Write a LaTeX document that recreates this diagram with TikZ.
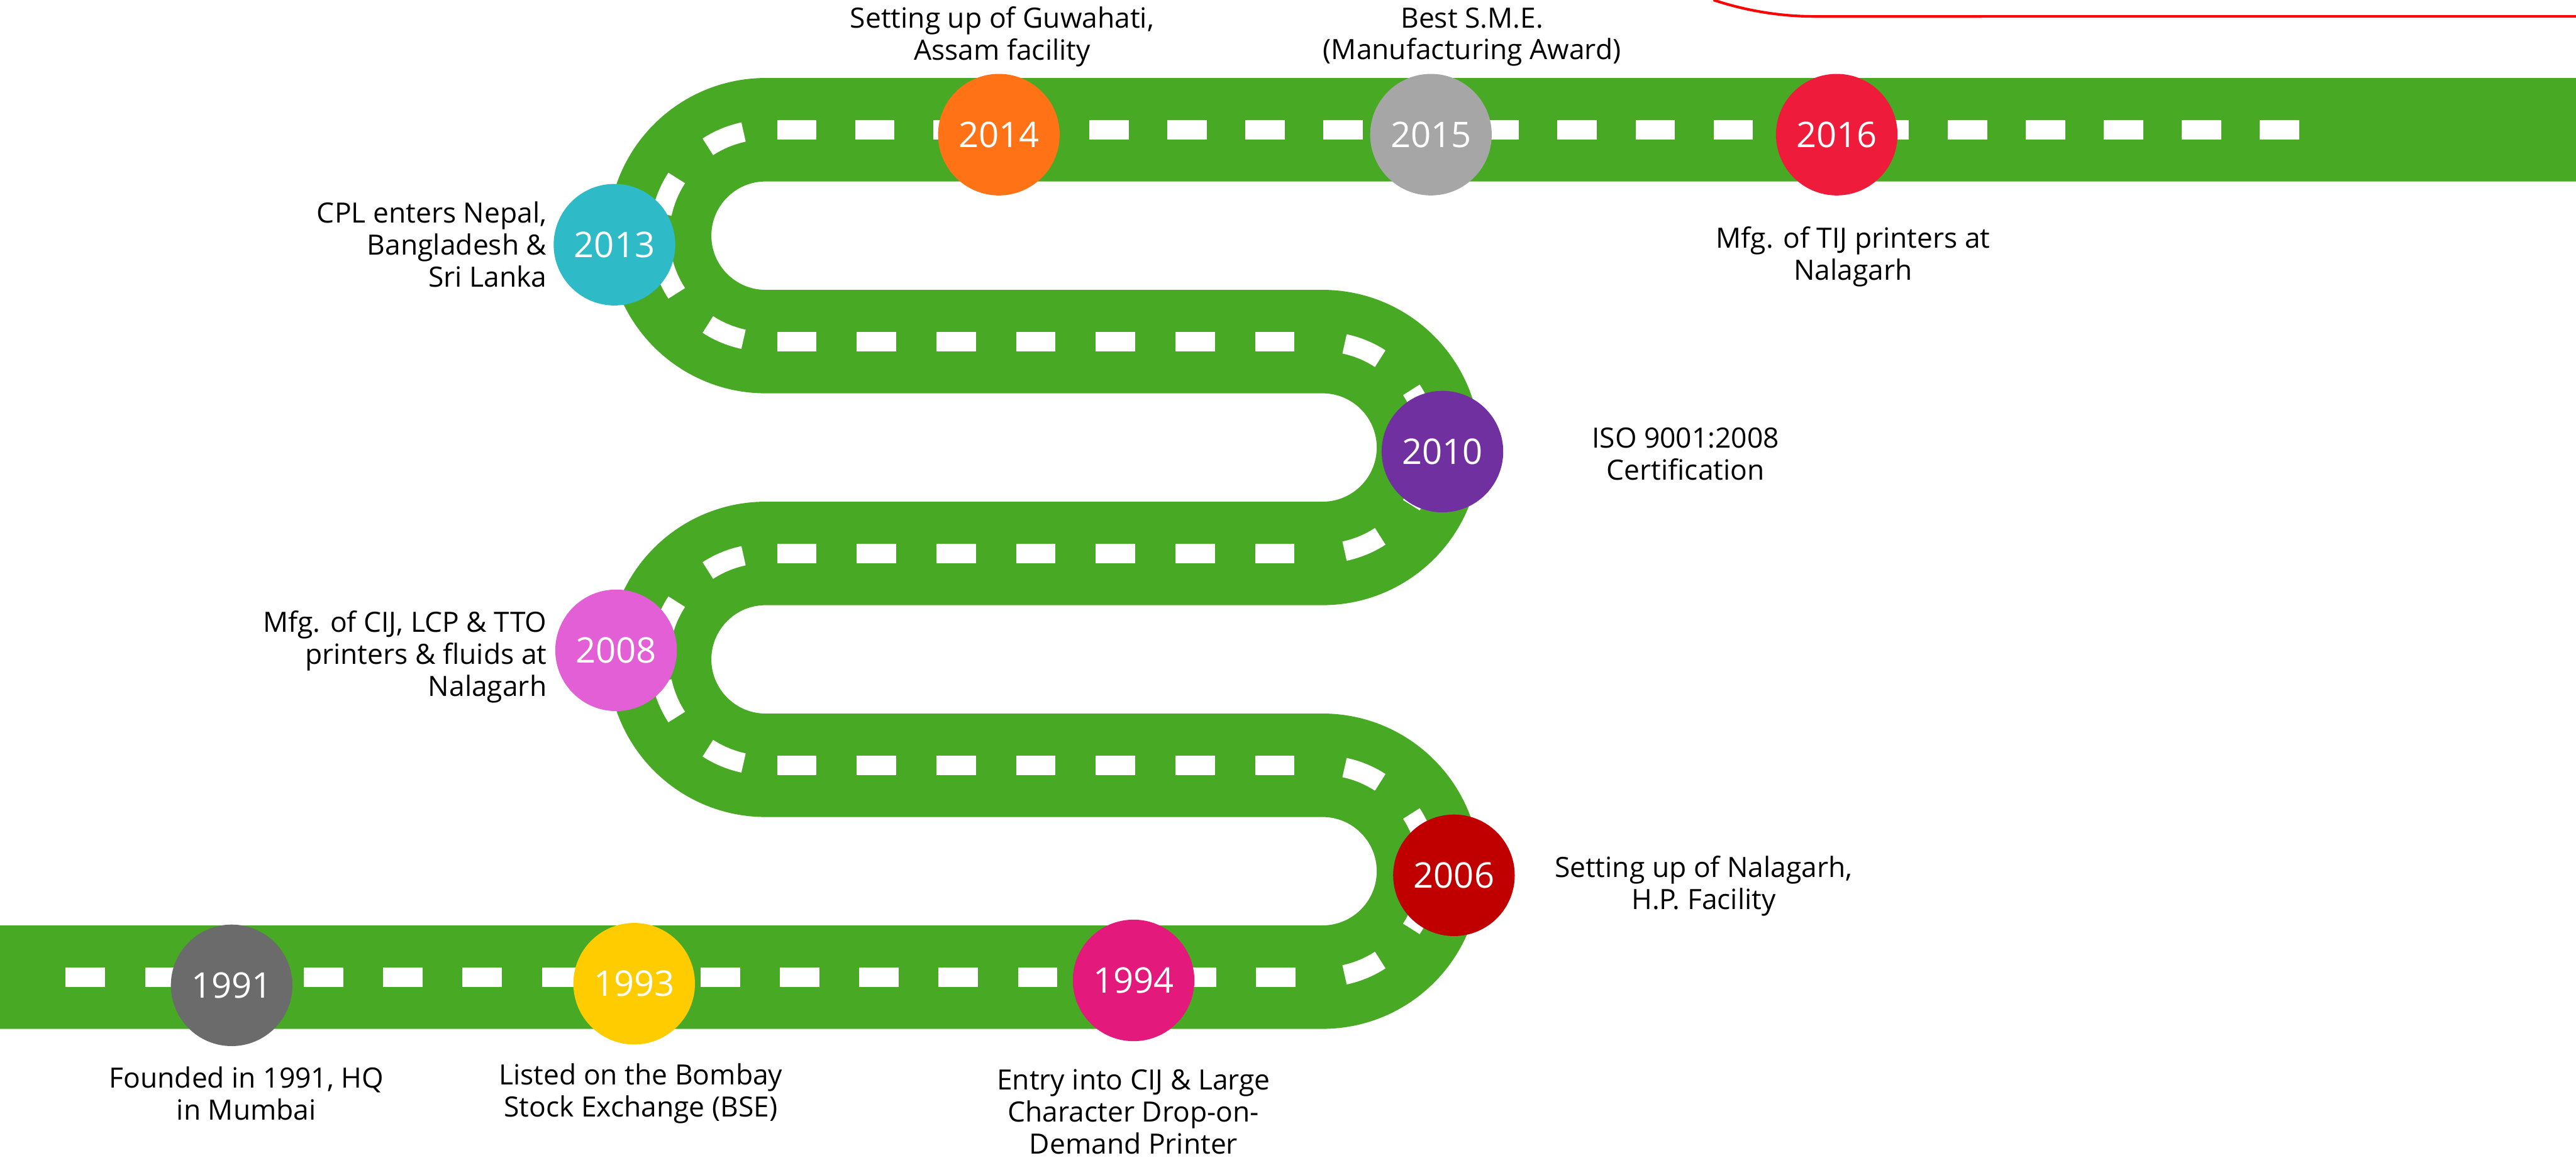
\documentclass[tikz,border=0pt]{standalone}
\usepackage{fontspec}
\setmainfont{Open Sans}
\definecolor{roadgreen}{HTML}{48A924}
\definecolor{c1991}{HTML}{6B6B6B}
\definecolor{c1993}{HTML}{FFCC00}
\definecolor{c1994}{HTML}{E3197B}
\definecolor{c2006}{HTML}{C00000}
\definecolor{c2008}{HTML}{E35FD6}
\definecolor{c2010}{HTML}{7030A0}
\definecolor{c2013}{HTML}{2EBAC6}
\definecolor{c2014}{HTML}{FF7316}
\definecolor{c2015}{HTML}{A6A6A6}
\definecolor{c2016}{HTML}{EE1C3A}
\definecolor{redline}{HTML}{FF0000}
\begin{document}
\begin{tikzpicture}[x=1pt,y=1pt,
  road/.style={draw=roadgreen, line width=63pt},
  arcdash/.style={draw=white, line width=12pt},
  year/.style={circle, minimum size=74pt, inner sep=0pt, text=white, font=\fontsize{21.5}{21.5}\selectfont},
  lbl/.style={align=center, font=\fontsize{17}{19.5}\selectfont, inner sep=0pt},
  lblr/.style={align=right, font=\fontsize{17}{19.5}\selectfont, inner sep=0pt, anchor=east},
]
\useasboundingbox (0,0) rectangle (1568,705);
% road
\draw[road] (0,110) -- (805,110) arc[start angle=-90,end angle=90,radius=64.5pt]
  -- (466,239) arc[start angle=270,end angle=90,radius=64.5pt]
  -- (805,368) arc[start angle=-90,end angle=90,radius=64.5pt]
  -- (466,497) arc[start angle=270,end angle=90,radius=64.5pt]
  -- (1568,626);
% straight dashes
\foreach \i in {0,...,15} \fill[white] ({40+48.3*\i},104) rectangle +(24,12);
\foreach \y in {233,362,491} \foreach \i in {0,...,6} \fill[white] ({473+48.5*\i},\y) rectangle +(24,12);
\foreach \i in {0,...,19} \fill[white] ({473+47.5*\i},620) rectangle +(24,12);
% curved dashes
\foreach \cx/\cy in {805/174.5, 805/432.5}
  \foreach \a in {-67.5,-22.5,22.5,67.5}
    \draw[arcdash] ([shift={({\a-10.5}:64.5)}]\cx,\cy) arc[start angle={\a-10.5}, end angle={\a+10.5}, radius=64.5pt];
\foreach \cx/\cy in {466/303.5, 466/561.5}
  \foreach \a in {112.5,157.5,202.5,247.5}
    \draw[arcdash] ([shift={({\a-10.5}:64.5)}]\cx,\cy) arc[start angle={\a-10.5}, end angle={\a+10.5}, radius=64.5pt];
% red line
\coordinate (rs) at (1043,705);
\coordinate (re) at (1568,695);
\draw[redline, line width=1.6pt] (rs) arc[start angle=251.65, end angle=270, radius=197pt] -- (re);
% year circles
\node[year, fill=c1991] (y1991) at (141,105) {1991};
\node[year, fill=c1993] (y1993) at (386,106) {1993};
\node[year, fill=c1994] (y1994) at (690,108) {1994};
\node[year, fill=c2006] (y2006) at (885,172) {2006};
\node[year, fill=c2008] (y2008) at (375,309) {2008};
\node[year, fill=c2010] (y2010) at (878,430) {2010};
\node[year, fill=c2013] (y2013) at (374,556) {2013};
\node[year, fill=c2014] (y2014) at (608,623) {2014};
\node[year, fill=c2015] (y2015) at (871,623) {2015};
\node[year, fill=c2016] (y2016) at (1118,623) {2016};
% labels
\node[lbl] (t1991) at (150,39) {Founded in 1991, HQ\\in Mumbai};
\node[lbl] (t1993) at (390,39) {Listed on the Bombay\\Stock Exchange (BSE)};
\node[lbl] (t1994) at (690,28) {Entry into CIJ \& Large\\Character Drop-on-\\Demand Printer};
\node[lbl] (t2006) at (1037,165.5) {Setting up of Nalagarh,\\H.P. Facility};
\node[lblr] (t2008) at (333,305) {Mfg. of CIJ, LCP \& TTO\\printers \& fluids at\\Nalagarh};
\node[lbl] (t2010) at (1026,428.5) {ISO 9001:2008\\Certification};
\node[lblr] (t2013) at (333,556) {CPL enters Nepal,\\Bangladesh \&\\Sri Lanka};
\node[lbl] (t2014) at (610,682.5) {Setting up of Guwahati,\\Assam facility};
\node[lbl] (t2015) at (896,682.5) {Best S.M.E.\\(Manufacturing Award)};
\node[lbl] (t2016) at (1128,548.5) {Mfg. of TIJ printers at\\Nalagarh};
\end{tikzpicture}
\end{document}
